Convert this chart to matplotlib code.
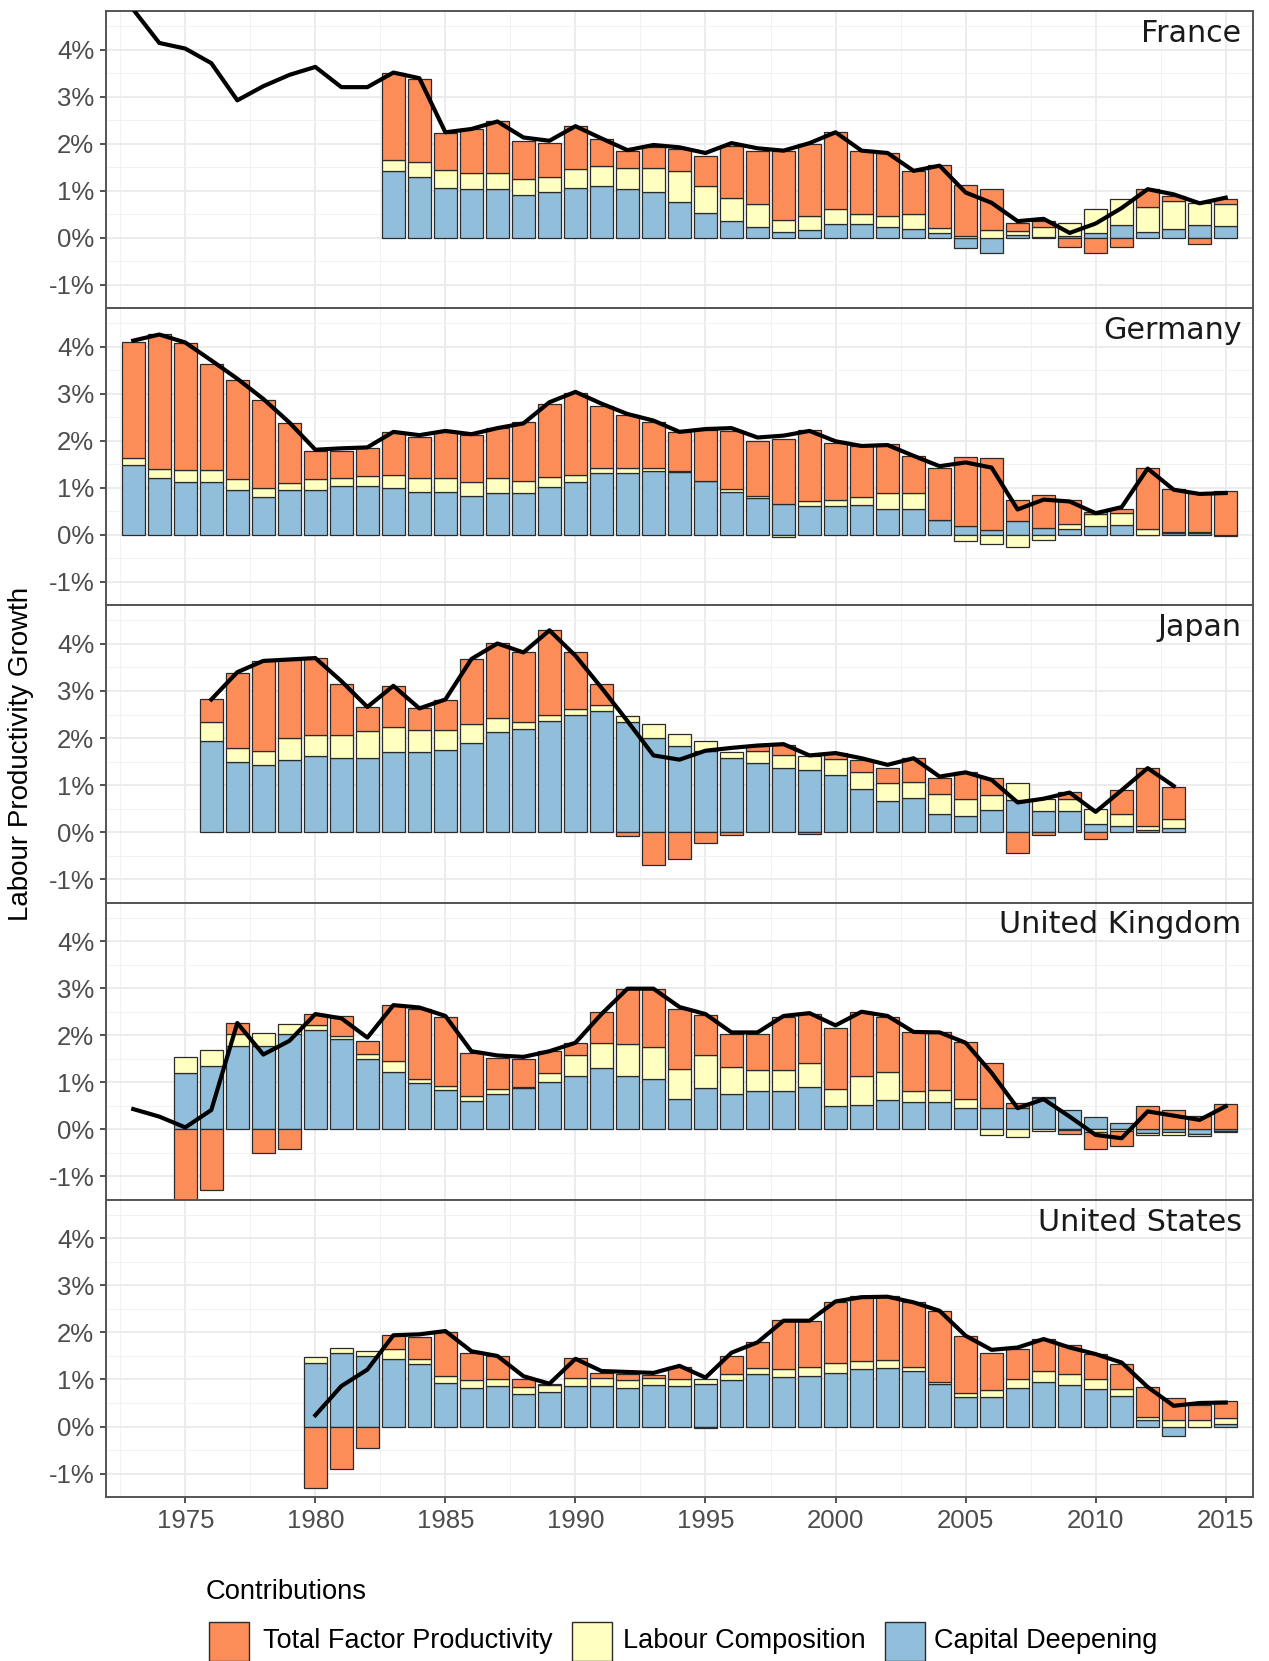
import numpy as np
import matplotlib.pyplot as plt
from matplotlib.patches import Rectangle
from matplotlib.ticker import MultipleLocator, FuncFormatter

# ---- data (percentage points) ----
countries = ['France', 'Germany', 'Japan', 'United Kingdom', 'United States']

fr_start = 1983
fr_cap = [1.42, 1.30, 1.06, 1.03, 1.03, 0.90, 0.96, 1.05, 1.10, 1.03, 0.97, 0.76, 0.53, 0.35, 0.22, 0.12, 0.16,
          0.30, 0.30, 0.23, 0.19, 0.10, -0.22, -0.33, 0.05, 0.02, 0.03, 0.10, 0.26, 0.12, 0.19, 0.26, 0.24]
fr_lab = [0.23, 0.30, 0.37, 0.35, 0.35, 0.35, 0.34, 0.40, 0.43, 0.46, 0.52, 0.65, 0.57, 0.50, 0.49, 0.26, 0.30,
          0.30, 0.21, 0.23, 0.32, 0.11, 0.03, 0.17, 0.09, 0.21, 0.28, 0.50, 0.57, 0.54, 0.59, 0.48, 0.47]
fr_tfp = [1.86, 1.78, 0.79, 0.93, 1.09, 0.81, 0.72, 0.93, 0.57, 0.36, 0.43, 0.47, 0.64, 1.10, 1.14, 1.47, 1.53,
          1.64, 1.34, 1.34, 0.91, 1.34, 1.08, 0.87, 0.17, 0.12, -0.20, -0.33, -0.20, 0.38, 0.10, -0.13, 0.12]
fr_line_start = 1973
fr_line = [4.85, 4.14, 4.02, 3.71, 2.92, 3.22, 3.46, 3.63, 3.20, 3.20, 3.51, 3.39, 2.24, 2.31, 2.47, 2.13, 2.06,
           2.37, 2.11, 1.86, 1.97, 1.92, 1.80, 2.01, 1.90, 1.85, 2.01, 2.24, 1.85, 1.80, 1.42, 1.53, 0.96, 0.74,
           0.35, 0.40, 0.10, 0.30, 0.63, 1.03, 0.92, 0.73, 0.85]

de_start = 1973
de_cap = [1.49, 1.20, 1.13, 1.13, 0.96, 0.80, 0.96, 0.96, 1.04, 1.04, 1.00, 0.91, 0.91, 0.82, 0.89, 0.89, 1.01,
          1.13, 1.32, 1.32, 1.36, 1.33, 1.15, 0.92, 0.79, 0.66, 0.61, 0.61, 0.64, 0.54, 0.54, 0.32, 0.18, 0.11,
          0.29, 0.14, 0.12, 0.18, 0.21, 0.00, 0.03, 0.03, -0.03]
de_lab = [0.14, 0.21, 0.24, 0.24, 0.22, 0.20, 0.15, 0.22, 0.16, 0.21, 0.27, 0.29, 0.29, 0.31, 0.31, 0.25, 0.22,
          0.14, 0.11, 0.11, 0.07, 0.03, 0.00, 0.06, 0.04, -0.04, 0.12, 0.14, 0.16, 0.34, 0.34, 0.00, -0.13, -0.20,
          -0.26, -0.11, 0.12, 0.26, 0.25, 0.13, 0.03, 0.03, 0.00]
de_tfp = [2.48, 2.86, 2.70, 2.27, 2.11, 1.86, 1.26, 0.61, 0.59, 0.59, 0.91, 0.89, 0.98, 1.00, 1.07, 1.27, 1.56,
          1.74, 1.32, 1.11, 0.98, 0.82, 1.08, 1.23, 1.17, 1.38, 1.50, 1.21, 1.09, 1.05, 0.80, 1.11, 1.48, 1.52,
          0.46, 0.70, 0.51, 0.05, 0.10, 1.30, 0.92, 0.83, 0.94]
de_line_start = 1973
de_line = [4.13, 4.26, 4.09, 3.71, 3.32, 2.89, 2.39, 1.81, 1.84, 1.86, 2.19, 2.12, 2.21, 2.14, 2.27, 2.37, 2.82,
           3.04, 2.79, 2.57, 2.43, 2.19, 2.25, 2.27, 2.07, 2.11, 2.21, 1.99, 1.89, 1.91, 1.68, 1.46, 1.54, 1.43,
           0.54, 0.75, 0.71, 0.46, 0.59, 1.41, 0.96, 0.87, 0.89]

jp_start = 1976
jp_cap = [1.94, 1.49, 1.43, 1.54, 1.61, 1.57, 1.57, 1.70, 1.70, 1.75, 1.89, 2.13, 2.20, 2.36, 2.50, 2.57, 2.34,
          2.00, 1.84, 1.73, 1.57, 1.46, 1.36, 1.32, 1.21, 0.91, 0.66, 0.73, 0.39, 0.34, 0.46, 0.68, 0.44, 0.44,
          0.18, 0.13, 0.04, 0.09]
jp_lab = [0.40, 0.30, 0.30, 0.45, 0.45, 0.49, 0.57, 0.53, 0.48, 0.43, 0.40, 0.30, 0.14, 0.14, 0.11, 0.13, 0.12,
          0.29, 0.25, 0.20, 0.13, 0.27, 0.28, 0.29, 0.35, 0.36, 0.38, 0.34, 0.43, 0.36, 0.33, 0.36, 0.27, 0.27,
          0.32, 0.26, 0.09, 0.18]
jp_tfp = [0.50, 1.60, 1.90, 1.67, 1.64, 1.08, 0.52, 0.88, 0.45, 0.62, 1.39, 1.58, 1.48, 1.79, 1.21, 0.44, -0.09,
          -0.69, -0.57, -0.23, -0.07, 0.10, 0.22, -0.05, 0.12, 0.27, 0.33, 0.50, 0.32, 0.57, 0.35, -0.44, -0.07,
          0.15, -0.14, 0.50, 1.23, 0.69]
jp_line_start = 1976
jp_line = [2.82, 3.40, 3.64, 3.67, 3.70, 3.21, 2.66, 3.11, 2.63, 2.82, 3.68, 4.01, 3.82, 4.29, 3.75, 3.07, 2.36,
           1.63, 1.54, 1.73, 1.79, 1.84, 1.87, 1.63, 1.68, 1.57, 1.43, 1.57, 1.18, 1.27, 1.11, 0.63, 0.71, 0.84,
           0.43, 0.89, 1.36, 0.98]

uk_start = 1975
uk_cap = [1.19, 1.34, 1.77, 1.77, 2.02, 2.11, 1.91, 1.50, 1.21, 0.99, 0.84, 0.61, 0.76, 0.88, 1.00, 1.13, 1.31,
          1.13, 1.07, 0.64, 0.88, 0.74, 0.81, 0.81, 0.90, 0.50, 0.52, 0.63, 0.59, 0.59, 0.45, 0.45, 0.45, 0.66,
          0.41, 0.26, 0.14, -0.07, -0.06, -0.10, -0.03]
uk_lab = [0.35, 0.35, 0.25, 0.27, 0.22, 0.10, 0.08, 0.11, 0.24, 0.07, 0.09, 0.10, 0.10, 0.02, 0.20, 0.46, 0.53,
          0.68, 0.67, 0.65, 0.71, 0.59, 0.46, 0.46, 0.51, 0.36, 0.62, 0.58, 0.22, 0.25, 0.19, -0.12, -0.17, -0.03,
          -0.02, -0.05, -0.04, -0.06, -0.06, -0.04, -0.02]
uk_tfp = [-1.52, -1.29, 0.24, -0.50, -0.41, 0.24, 0.41, 0.27, 1.19, 1.50, 1.45, 0.92, 0.66, 0.60, 0.46, 0.24,
          0.65, 1.18, 1.25, 1.27, 0.84, 0.69, 0.75, 1.11, 1.04, 1.30, 1.35, 1.17, 1.25, 1.22, 1.22, 0.96, 0.11,
          0.02, -0.09, -0.36, -0.32, 0.50, 0.41, 0.29, 0.54]
uk_line_start = 1973
uk_line = [0.43, 0.27, 0.04, 0.41, 2.26, 1.59, 1.88, 2.45, 2.36, 1.95, 2.64, 2.59, 2.41, 1.66, 1.57, 1.54, 1.66,
           1.84, 2.45, 2.99, 2.99, 2.60, 2.45, 2.06, 2.06, 2.41, 2.47, 2.21, 2.50, 2.41, 2.07, 2.06, 1.84, 1.20,
           0.45, 0.64, 0.27, -0.12, -0.19, 0.38, 0.29, 0.20, 0.49]

us_start = 1980
us_cap = [1.36, 1.57, 1.49, 1.43, 1.32, 0.93, 0.82, 0.86, 0.70, 0.73, 0.86, 0.86, 0.82, 0.89, 0.86, 0.90, 0.99,
          1.11, 1.06, 1.07, 1.13, 1.23, 1.25, 1.18, 0.91, 0.63, 0.63, 0.82, 0.94, 0.89, 0.80, 0.64, 0.13, -0.20,
          -0.02, 0.06]
us_lab = [0.12, 0.11, 0.12, 0.21, 0.12, 0.14, 0.17, 0.14, 0.13, 0.16, 0.18, 0.18, 0.17, 0.15, 0.14, 0.10, 0.12,
          0.14, 0.17, 0.20, 0.23, 0.16, 0.16, 0.09, 0.03, 0.08, 0.14, 0.19, 0.24, 0.22, 0.21, 0.15, 0.08, 0.13,
          0.13, 0.12]
us_tfp = [-1.31, -0.90, -0.45, 0.30, 0.47, 0.94, 0.58, 0.50, 0.19, 0.02, 0.41, 0.10, 0.12, 0.05, 0.27, -0.04,
          0.40, 0.54, 1.04, 0.98, 1.28, 1.38, 1.36, 1.37, 1.52, 1.22, 0.80, 0.63, 0.68, 0.62, 0.53, 0.53, 0.63,
          0.48, 0.33, 0.36]
us_line_start = 1980
us_line = [0.24, 0.86, 1.21, 1.94, 1.96, 2.03, 1.60, 1.50, 1.07, 0.91, 1.44, 1.18, 1.16, 1.14, 1.29, 1.04, 1.57,
           1.79, 2.25, 2.25, 2.66, 2.75, 2.76, 2.64, 2.46, 1.93, 1.63, 1.68, 1.86, 1.68, 1.54, 1.36, 0.84, 0.44,
           0.50, 0.51]

panels = [
    (fr_start, fr_cap, fr_lab, fr_tfp, fr_line_start, fr_line),
    (de_start, de_cap, de_lab, de_tfp, de_line_start, de_line),
    (jp_start, jp_cap, jp_lab, jp_tfp, jp_line_start, jp_line),
    (uk_start, uk_cap, uk_lab, uk_tfp, uk_line_start, uk_line),
    (us_start, us_cap, us_lab, us_tfp, us_line_start, us_line),
]

legend_labels = ['Total Factor Productivity', 'Labour Composition', 'Capital Deepening']
c_tfp, c_lab, c_cap = '#FC8D59', '#FFFFBF', '#91BFDB'
edge = '#2b2b2b'
xticks = [1975, 1980, 1985, 1990, 1995, 2000, 2005, 2010, 2015]

txt_font = ['Liberation Sans', 'DejaVu Sans']

fig = plt.figure(figsize=(12.69, 16.61), dpi=100)
gs = fig.add_gridspec(5, 1, left=0.0835, right=0.9874, top=0.9934, bottom=0.0987, hspace=0)

for i, (name, p) in enumerate(zip(countries, panels)):
    start, cap, lab, tfp, lstart, line = p
    ax = fig.add_subplot(gs[i])
    years = np.arange(start, start + len(cap))
    pos = np.zeros(len(years))
    neg = np.zeros(len(years))
    # ggplot-style stacking: positives upward, negatives downward
    for vals, col in [(cap, c_cap), (lab, c_lab), (tfp, c_tfp)]:
        v = np.array(vals, dtype=float)
        bottom = np.where(v >= 0, pos, neg)
        ax.bar(years, v, bottom=bottom, width=0.9, color=col, edgecolor=edge, linewidth=0.9, zorder=2)
        pos += np.clip(v, 0, None)
        neg += np.clip(v, None, 0)
    lyears = np.arange(lstart, lstart + len(line))
    ax.plot(lyears, line, color='black', linewidth=3.0, zorder=3, solid_joinstyle='round')

    ax.set_xlim(1971.95, 2016.05)
    ax.set_ylim(-1.5, 4.82)
    ax.yaxis.set_major_locator(MultipleLocator(1))
    ax.yaxis.set_minor_locator(MultipleLocator(0.5))
    ax.set_xticks(xticks)
    ax.xaxis.set_minor_locator(MultipleLocator(2.5))
    ax.yaxis.set_major_formatter(FuncFormatter(lambda v, _: '%d%%' % round(v)))
    ax.grid(which='major', color='#EBEBEB', linewidth=1.3, zorder=0)
    ax.grid(which='minor', color='#F2F2F2', linewidth=0.7, zorder=0)
    ax.set_axisbelow(True)
    ax.tick_params(which='minor', length=0)
    ax.tick_params(which='major', length=4.5, width=1.2, color='#333333', labelcolor='#4D4D4D',
                   labelsize=18.5, pad=4)
    for lab_ in ax.get_yticklabels() + ax.get_xticklabels():
        lab_.set_fontfamily(txt_font)
    if i < 4:
        ax.tick_params(axis='x', length=0, labelbottom=False)
    for s in ax.spines.values():
        s.set_color('#555555')
        s.set_linewidth(1.4)
    ax.text(0.99, 0.925, name, transform=ax.transAxes, ha='right', va='center',
            fontsize=21.7, color='#1A1A1A', family='DejaVu Sans')

fig.text(0.0165, 0.546, 'Labour Productivity Growth', rotation=90, ha='center', va='center',
         fontsize=20, color='black', family=txt_font)

# legend at the bottom
fig.text(0.162, 0.0416, 'Contributions', ha='left', va='center', fontsize=19.7, family=txt_font)
W, H = 1269.0, 1661.0
keys = [(209, 263), (572, 623), (885, 934)]
for (kx, tx), col, text in zip(keys, [c_tfp, c_lab, c_cap], legend_labels):
    fig.patches.append(Rectangle((kx / W, 0.5 / H), 40 / W, 39 / H, transform=fig.transFigure,
                                 facecolor=col, edgecolor=edge, linewidth=1.0))
    fig.text(tx / W, 20 / H, text, ha='left', va='center', fontsize=19.5, family=txt_font)

fig.savefig('out.png', dpi=100)
